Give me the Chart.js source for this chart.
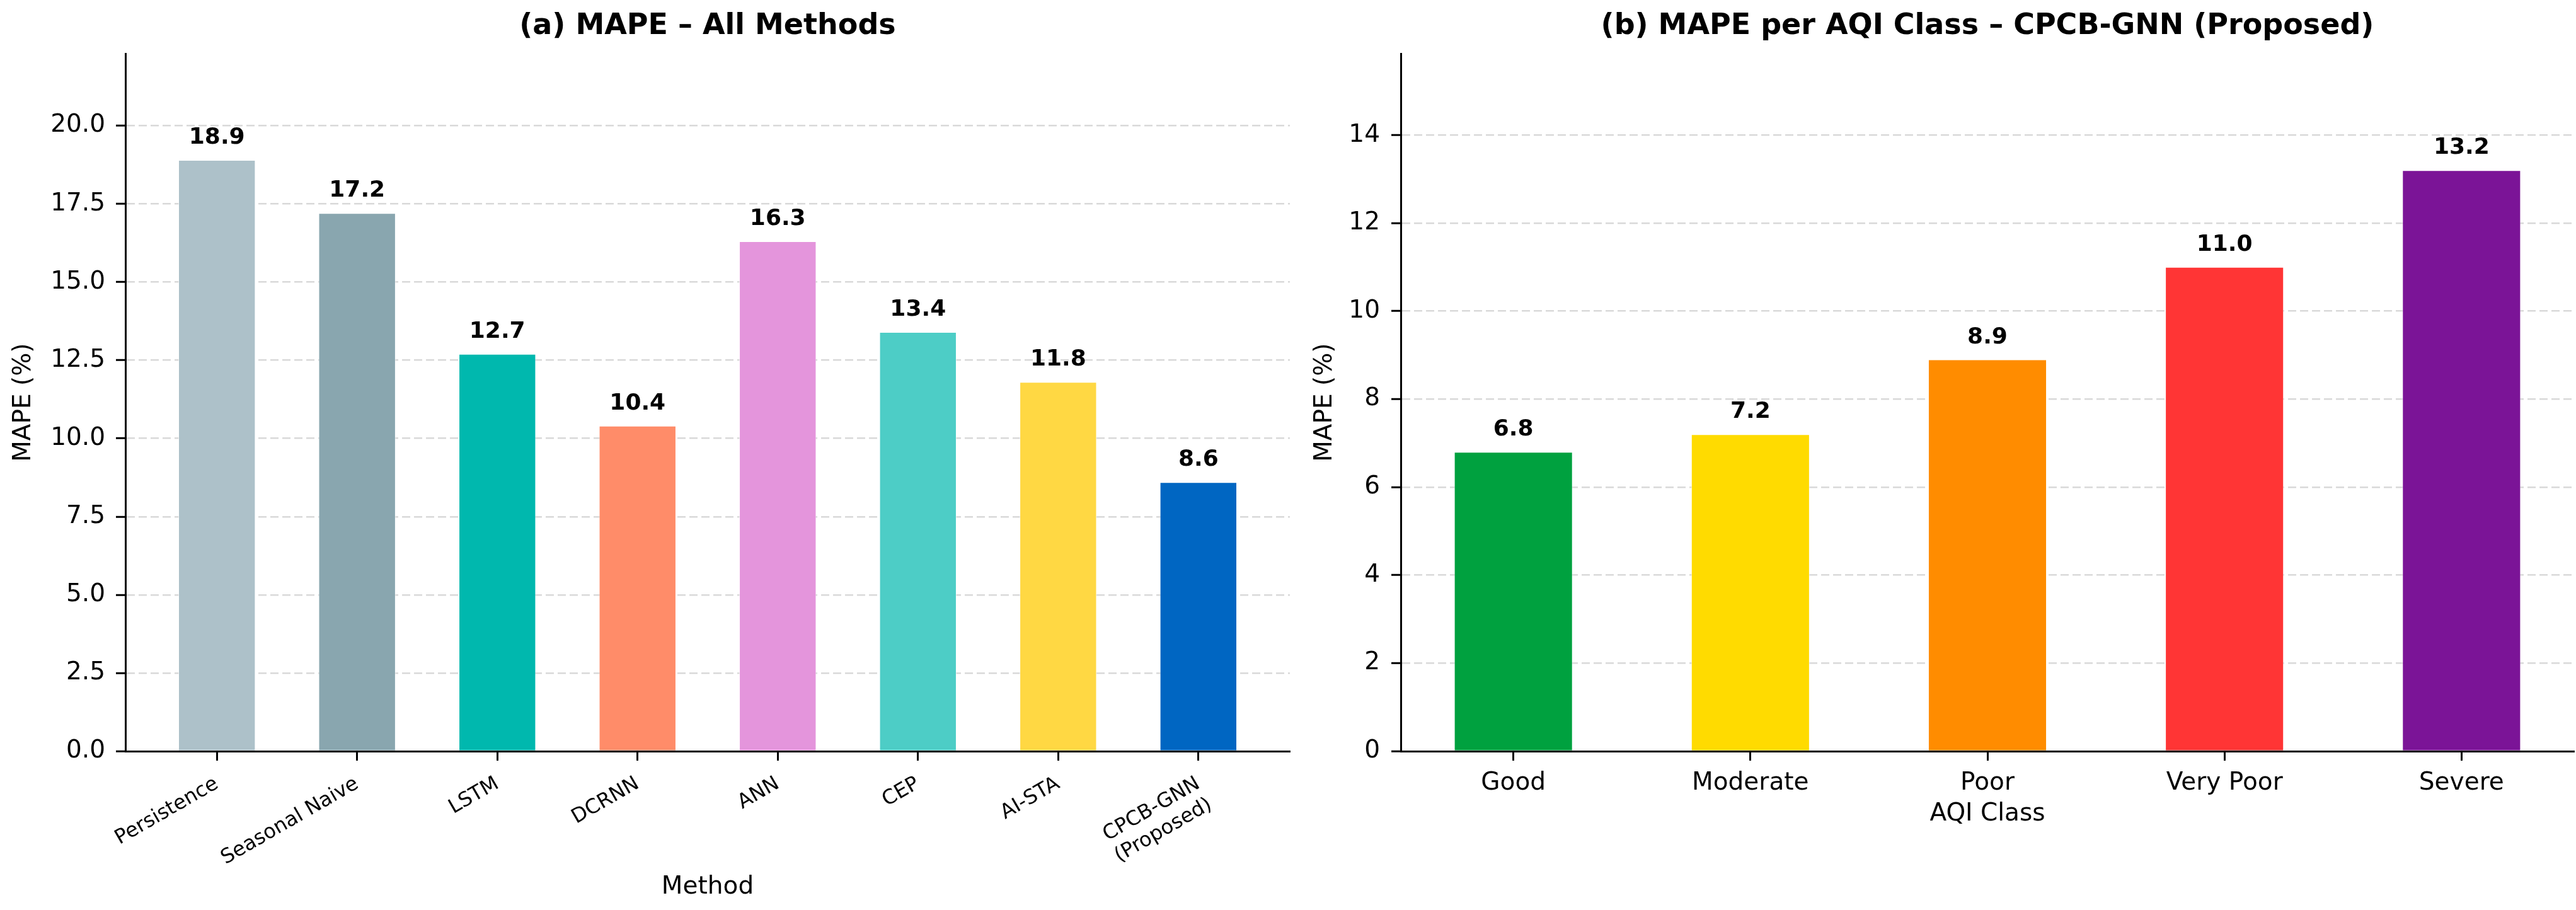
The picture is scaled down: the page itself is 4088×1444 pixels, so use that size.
<!DOCTYPE html>
<html>
<head>
<meta charset="utf-8">
<script src="https://cdn.jsdelivr.net/npm/chart.js@4.4.1/dist/chart.umd.min.js"></script>
<style>
  html, body { margin: 0; padding: 0; background: #fff; }
  #wrap { position: relative; width: 4088px; height: 1444px; }
  canvas { position: absolute; top: 0; }
</style>
</head>
<body>
<div id="wrap">
  <canvas id="methods" width="2060" height="1444" style="left:0;width:2060px;height:1444px"></canvas>
  <canvas id="classes" width="2028" height="1444" style="left:2060px;width:2028px;height:1444px"></canvas>
</div>
<script>
// (a) all methods
const methods = ["Persistence", "Seasonal Naive", "LSTM", "DCRNN", "ANN", "CEP", "AI-STA", ["CPCB-GNN", "(Proposed)"]];
const methodMape = [18.9, 17.2, 12.7, 10.4, 16.3, 13.4, 11.8, 8.6];
const methodColors = ["#adc1c9", "#89a6af", "#00b8ae", "#ff8c69", "#e495dc", "#4dcdc6", "#ffd843", "#0066c2"];
const methodTicks = [0, 2.5, 5, 7.5, 10, 12.5, 15, 17.5, 20];

// (b) per AQI class
const aqiClasses = ["Good", "Moderate", "Poor", "Very Poor", "Severe"];
const classMape = [6.8, 7.2, 8.9, 11.0, 13.2];
const classColors = ["#00a13f", "#ffdb00", "#ff8c00", "#ff3535", "#7b1497"];
const classTicks = [0, 2, 4, 6, 8, 10, 12, 14];

const FONT = '"DejaVu Sans", sans-serif';

// numbers on top of bars
const valueLabels = {
  id: "valueLabels",
  afterDatasetsDraw(chart) {
    const ctx = chart.ctx;
    const ds = chart.data.datasets[0];
    ctx.save();
    ctx.font = "bold 36px " + FONT;
    ctx.fillStyle = "#000";
    ctx.textAlign = "center";
    ctx.textBaseline = "alphabetic";
    chart.getDatasetMeta(0).data.forEach((bar, i) => {
      ctx.fillText(ds.data[i].y.toFixed(1), bar.x, bar.y - 26);
    });
    ctx.restore();
  },
};

function drawPanel(id, o) {
  const n = o.labels.length;
  // same side margins as matplotlib (half bar + 5%)
  const side = o.barFrac / 2 + 0.05 * (n - 1 + o.barFrac);
  return new Chart(document.getElementById(id), {
    type: "bar",
    data: {
      datasets: [{
        data: o.values.map((v, i) => ({ x: i, y: v })),
        backgroundColor: o.colors,
        borderColor: "rgba(255,255,255,0.7)",
        borderWidth: 1,
        barPercentage: o.barFrac,
        categoryPercentage: 1,
      }],
    },
    options: {
      responsive: false,
      animation: false,
      devicePixelRatio: 1,
      layout: { padding: { left: 0, right: o.padRight, top: 0, bottom: 0 } },
      plugins: {
        legend: { display: false },
        tooltip: { enabled: false },
        title: {
          display: true,
          text: o.title,
          fullSize: false,
          color: "#000",
          font: { family: FONT, size: 46, weight: "bold", lineHeight: 1.2 },
          padding: { top: 14, bottom: 16 },
        },
      },
      scales: {
        x: {
          type: "linear",
          offset: false,
          min: -side,
          max: n - 1 + side,
          afterBuildTicks: (s) => { s.ticks = o.labels.map((_, i) => ({ value: i })); },
          afterFit: (s) => { s.height = 252; },
          ticks: {
            callback: (v) => o.labels[v],
            autoSkip: false,
            minRotation: o.rot,
            maxRotation: o.rot,
            color: "#000",
            padding: o.xPad,
            font: { family: FONT, size: o.xFont },
          },
          grid: { offset: false, drawOnChartArea: false, drawTicks: true, tickLength: 15, tickColor: "#000", tickWidth: 3 },
          border: { color: "#000", width: 3 },
          title: {
            display: true,
            text: o.xTitle,
            color: "#000",
            font: { family: FONT, size: 39, lineHeight: 1.2 },
            padding: { top: 0, bottom: o.xTitleBottom },
          },
        },
        y: {
          min: 0,
          max: o.yMax,
          afterBuildTicks: (s) => { s.ticks = o.ticks.map((v) => ({ value: v })); },
          afterFit: (s) => { s.width = o.yWidth; },
          ticks: {
            callback: o.fmt,
            color: "#000",
            padding: o.yPad,
            font: { family: FONT, size: 39 },
          },
          grid: {
            color: (c) => (c.tick && c.tick.value === 0 ? "rgba(0,0,0,0)" : "#d9d9d9"),
            lineWidth: 2.5,
            drawTicks: true,
            tickLength: 15,
            tickColor: "#000",
            tickWidth: 3,
          },
          border: { color: "#000", width: 3, dash: [13, 6] },
          title: {
            display: true,
            text: "MAPE (%)",
            color: "#000",
            font: { family: FONT, size: 39, lineHeight: 1.2 },
            padding: { top: o.yTitleTop, bottom: 0 },
          },
        },
      },
    },
    plugins: [valueLabels],
  });
}

drawPanel("methods", {
  labels: methods, values: methodMape, colors: methodColors, ticks: methodTicks,
  title: "(a) MAPE \u2013 All Methods", xTitle: "Method",
  yMax: 22.3, fmt: (v) => v.toFixed(1), barFrac: 0.55,
  rot: 30, xFont: 32, xPad: 18, xTitleBottom: 12.6,
  yWidth: 199, yPad: 17, yTitleTop: 14.6, padRight: 13,
});

drawPanel("classes", {
  labels: aqiClasses, values: classMape, colors: classColors, ticks: classTicks,
  title: "(b) MAPE per AQI Class \u2013 CPCB-GNN (Proposed)", xTitle: "AQI Class",
  yMax: 15.85, fmt: (v) => String(v), barFrac: 0.5,
  rot: 0, xFont: 39, xPad: 12, xTitleBottom: 128.6,
  yWidth: 163, yPad: 18, yTitleTop: 19.6, padRight: 3,
});
</script>
</body>
</html>
